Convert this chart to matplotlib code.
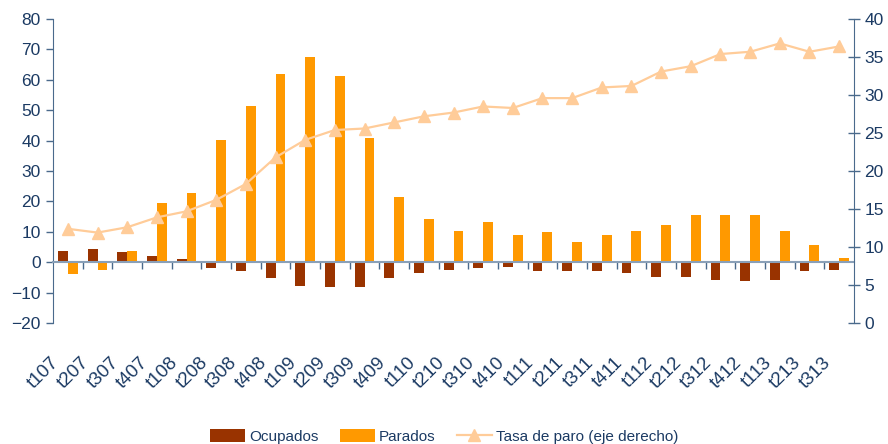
import matplotlib
matplotlib.use("Agg")
import matplotlib.pyplot as plt
import matplotlib.transforms as mtransforms
import numpy as np

categories = ["t107", "t207", "t307", "t407", "t108", "t208", "t308", "t408", "t109",
              "t209", "t309", "t409", "t110", "t210", "t310", "t410", "t111", "t211",
              "t311", "t411", "t112", "t212", "t312", "t412", "t113", "t213", "t313"]
ocupados = [3.8, 4.5, 3.5, 1.9, 0.9, -2.0, -3.0, -5.2, -7.9, -8.2, -8.2, -5.2, -3.6,
            -2.6, -2.0, -1.6, -3.0, -3.0, -3.0, -3.6, -4.9, -4.9, -5.9, -6.3, -5.9, -3.0, -2.6]
parados = [-3.9, -2.6, 3.8, 19.6, 22.8, 40.2, 51.4, 61.9, 67.4, 61.2, 40.9, 21.5, 14.3,
           10.4, 13.4, 9.1, 9.8, 6.8, 9.1, 10.4, 12.1, 15.4, 15.4, 15.4, 10.4, 5.8, 1.5]
tasa = [12.4, 11.9, 12.6, 13.9, 14.7, 16.2, 18.3, 21.8, 24.1, 25.4, 25.6, 26.4, 27.2,
        27.7, 28.5, 28.3, 29.6, 29.6, 31.0, 31.2, 33.1, 33.8, 35.4, 35.7, 36.8, 35.7, 36.4]
left_ticks = list(range(-20, 81, 10))
right_ticks = list(range(0, 41, 5))

TXT = "#1b3a63"
AX = "#4a6a8c"
plt.rcParams['font.family'] = ['Liberation Sans', 'DejaVu Sans']

fig = plt.figure(figsize=(8.88, 4.44), dpi=100)
ax = fig.add_axes([0.0597, 0.2725, 0.902, 0.6845])
x = np.arange(len(categories))
w = 0.33
b1 = ax.bar(x - w / 2, ocupados, width=w, color="#993300", label="Ocupados", zorder=2)
b2 = ax.bar(x + w / 2, parados, width=w, color="#FF9900", label="Parados", zorder=2)
ax.set_xlim(-0.5, len(categories) - 0.5)
ax.set_ylim(-20, 80)
ax.set_yticks(left_ticks)
ax.tick_params(axis='y', direction='out', length=5, width=1, color=AX, labelcolor=TXT,
               labelsize=12.5, pad=4)
ax.spines['top'].set_visible(False)
ax.spines['right'].set_visible(False)
ax.spines['left'].set_color(AX)
ax.spines['bottom'].set_position(('data', 0))
ax.spines['bottom'].set_color("#8aa0b8")
ax.spines['bottom'].set_linewidth(1.5)
ax.set_xticks(np.arange(0.5, len(categories) - 1, 1.0))
ax.set_xticklabels([])
ax.tick_params(axis='x', direction='out', length=5, width=1, color=AX)

# category labels below the plot area
base = mtransforms.blended_transform_factory(ax.transData, ax.transAxes)
off = mtransforms.ScaledTranslation(-11 / 100, -37 / 100, fig.dpi_scale_trans)
for xi, lab in zip(x, categories):
    ax.text(xi, 0, lab, transform=base + off, rotation=45, ha='right', va='center',
            rotation_mode='anchor', color=TXT, fontsize=13.5, clip_on=False)

ax2 = ax.twinx()
ax2.set_ylim(0, 40)
ax2.set_yticks(right_ticks)
ln, = ax2.plot(x, tasa, color="#FFCC99", lw=1.6, marker='^', markersize=8,
               label="Tasa de paro (eje derecho)", zorder=3)
for s in ['top', 'left', 'bottom']:
    ax2.spines[s].set_visible(False)
ax2.spines['right'].set_color(AX)
ax2.tick_params(axis='y', direction='inout', length=9, width=1, color=AX, labelcolor=TXT,
                labelsize=12.5, pad=3)

fig.legend(handles=[b1, b2, ln], loc='lower center', bbox_to_anchor=(0.5, -0.03), ncol=3,
           frameon=False, handlelength=2.3, handleheight=0.9, columnspacing=1.4,
           handletextpad=0.25, labelcolor=TXT,
           prop={'family': ['Liberation Sans', 'DejaVu Sans'], 'size': 11})

fig.savefig("out.png", dpi=100)
